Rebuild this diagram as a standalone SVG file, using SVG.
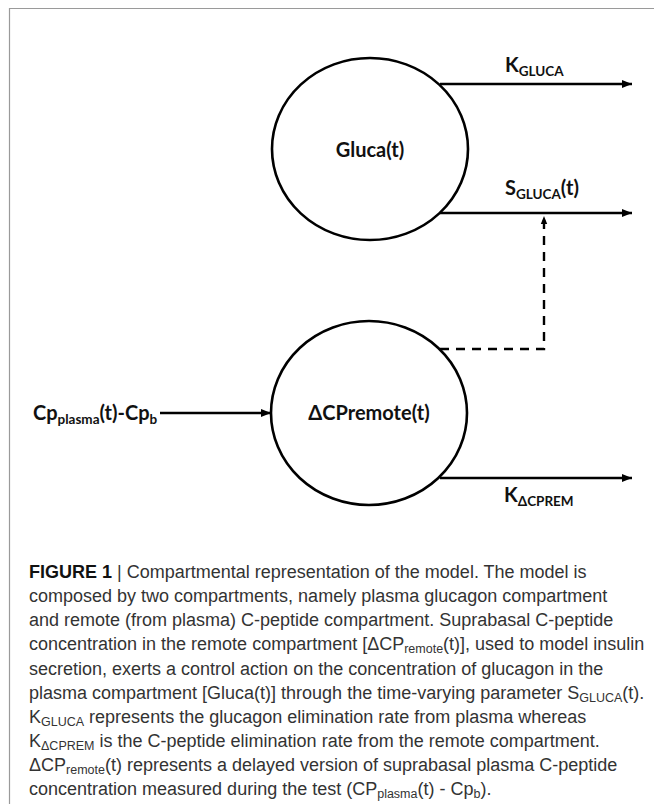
<svg xmlns="http://www.w3.org/2000/svg" width="654" height="804" viewBox="0 0 654 804">
<defs>
<marker id="ah" viewBox="0 0 10 10" refX="10" refY="5" markerWidth="11" markerHeight="10" markerUnits="userSpaceOnUse" orient="auto">
<path d="M0,1 L10,5 L0,9 Z" fill="#000"/>
</marker>
<marker id="ahs" viewBox="0 0 10 10" refX="10" refY="5" markerWidth="8" markerHeight="8" markerUnits="userSpaceOnUse" orient="auto">
<path d="M0,1 L10,5 L0,9 Z" fill="#000"/>
</marker>
</defs>
<style>
.comp{fill:none;stroke:#000;stroke-width:2.6}
.edge{fill:none;stroke:#000;stroke-width:2.4}
.dash{stroke-dasharray:9 7}
.lbl{font-family:Lato,"Open Sans","Liberation Sans",sans-serif;font-weight:bold;font-size:20px;fill:#111}
.sub{font-size:13.5px}
.cap{font-family:"Liberation Sans",Arial,sans-serif;font-size:18px;fill:#333}
.cs{font-size:12.5px}
.frame{fill:none;stroke:#9a9a9a;stroke-width:1.2}
</style>
<rect width="654" height="804" fill="#fff"/>
<path class="frame" d="M9.5,804 L9.5,8.5 L654,8.5"/>

<g id="gluca">
<ellipse class="comp" cx="370" cy="149" rx="98" ry="91"/>
<text class="lbl" x="370" y="157" text-anchor="middle">Gluca(t)</text>
</g>

<g id="dcpremote">
<ellipse class="comp" cx="369" cy="413" rx="98" ry="92"/>
<text class="lbl" x="369" y="420" text-anchor="middle">ΔCPremote(t)</text>
</g>

<g id="connectors">
<line class="edge" x1="440" y1="84" x2="632" y2="84" marker-end="url(#ah)"/>
<line class="edge" x1="440" y1="213" x2="632" y2="213" marker-end="url(#ah)"/>
<line class="edge" x1="160" y1="413" x2="271" y2="413" marker-end="url(#ah)"/>
<line class="edge" x1="440" y1="478" x2="632" y2="478" marker-end="url(#ah)"/>
<path class="edge dash" d="M440,349 L544,349 L544,216" marker-end="url(#ahs)"/>
</g>

<g id="labels">
<text class="lbl" x="505" y="72">K<tspan class="sub" dy="4">GLUCA</tspan></text>
<text class="lbl" x="505" y="195">S<tspan class="sub" dy="4">GLUCA</tspan><tspan dy="-4">(t)</tspan></text>
<text class="lbl" x="33" y="420">Cp<tspan class="sub" dy="4">plasma</tspan><tspan dy="-4">(t)-Cp</tspan><tspan class="sub" dy="4">b</tspan></text>
<text class="lbl" x="504" y="502">K<tspan class="sub" dy="4">ΔCPREM</tspan></text>
</g>

<g id="caption">
<text class="cap" x="29" y="578"><tspan font-weight="bold" fill="#111">FIGURE 1</tspan> | Compartmental representation of the model. The model is</text>
<text class="cap" x="29" y="602">composed by two compartments, namely plasma glucagon compartment</text>
<text class="cap" x="29" y="626">and remote (from plasma) C-peptide compartment. Suprabasal C-peptide</text>
<text class="cap" x="29" y="650">concentration in the remote compartment [ΔCP<tspan class="cs" dy="3">remote</tspan><tspan dy="-3">(t)], used to model insulin</tspan></text>
<text class="cap" x="29" y="675">secretion, exerts a control action on the concentration of glucagon in the</text>
<text class="cap" x="29" y="699">plasma compartment [Gluca(t)] through the time-varying parameter S<tspan class="cs" dy="3">GLUCA</tspan><tspan dy="-3">(t).</tspan></text>
<text class="cap" x="29" y="723">K<tspan class="cs" dy="3">GLUCA</tspan><tspan dy="-3"> represents the glucagon elimination rate from plasma whereas</tspan></text>
<text class="cap" x="29" y="747">K<tspan class="cs" dy="3">ΔCPREM</tspan><tspan dy="-3"> is the C-peptide elimination rate from the remote compartment.</tspan></text>
<text class="cap" x="29" y="771">ΔCP<tspan class="cs" dy="3">remote</tspan><tspan dy="-3">(t) represents a delayed version of suprabasal plasma C-peptide</tspan></text>
<text class="cap" x="29" y="795">concentration measured during the test (CP<tspan class="cs" dy="3">plasma</tspan><tspan dy="-3">(t) - Cp</tspan><tspan class="cs" dy="3">b</tspan><tspan dy="-3">).</tspan></text>
</g>
</svg>
